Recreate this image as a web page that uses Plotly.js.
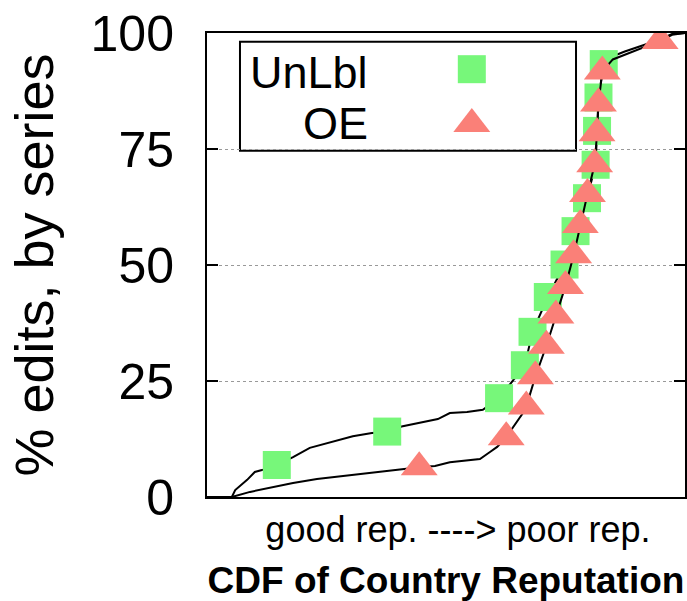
<!DOCTYPE html>
<html>
<head>
<meta charset="utf-8">
<script src="https://cdn.plot.ly/plotly-3.0.1.min.js"></script>
<style>html,body{margin:0;padding:0;background:#fff;}#chart{width:687px;height:601px;}</style>
</head>
<body>
<div id="chart"></div>
<script>
// ---- data ----
const unlblMarkX = [0.146,0.377,0.611,0.665,0.681,0.713,0.748,0.771,0.795,0.813,0.816,0.819,0.830];
const unlblMarkY = [6.9,14.1,21.3,28.4,35.6,43.1,50.1,57.3,64.4,71.6,78.9,86.1,93.3];

const oeMarkX = [0.444,0.626,0.668,0.687,0.710,0.730,0.750,0.767,0.781,0.796,0.811,0.816,0.819,0.827,0.948];
const oeMarkY = [6.4,12.9,19.5,26.0,32.6,39.1,45.5,52.1,58.6,65.3,71.7,78.4,84.8,91.7,98.3];

const unlblCurveX = [0,0.052,0.059,0.084,0.100,0.115,0.146,0.180,0.215,0.264,0.305,0.345,0.377,0.407,0.446,0.483,0.508,0.544,0.577,0.611,0.665,0.681,0.713,0.748,0.771,0.795,0.813,0.816,0.819,0.830,0.849,0.874,0.912,0.948,0.973,1.0];
const unlblCurveY = [0,0,1.5,3.7,5.4,5.8,6.9,8.6,10.6,11.9,13.1,13.8,14.0,15.2,16.0,16.8,18.1,18.3,18.8,21.3,28.4,35.6,43.1,50.1,57.3,64.4,71.6,78.9,86.1,93.3,95.0,96.0,97.3,98.6,99.8,100];

const oeCurveX = [0,0.052,0.090,0.126,0.180,0.230,0.278,0.335,0.408,0.444,0.477,0.508,0.571,0.592,0.607,0.626,0.661,0.668,0.687,0.710,0.730,0.750,0.767,0.781,0.796,0.811,0.816,0.819,0.827,0.849,0.874,0.912,0.948,0.973,1.0];
const oeCurveY = [0,0,1.1,1.9,3.0,3.9,4.5,5.2,6.0,6.4,6.7,7.5,8.2,9.7,10.8,12.9,18.1,19.5,26.0,32.6,39.1,45.5,52.1,58.6,65.3,71.7,78.4,84.8,91.7,94.3,95.3,96.7,98.3,99.6,100];

const seriesNames = ['UnLbl','OE'];
const yTickVals = [0,25,50,75,100];
const yTickText = ['0','25','50','75','100'];
const xTickVals = [0.525];
const xTickText = ['good rep. ----> poor rep.'];
const yTitle = '% edits, by series';
const xTitle = '<b>CDF of Country Reputation</b>';

// legend glyph placement (layout)
const legendGlyphX = [0.554];
const legendGlyphY = [92.2, 80.4];

const GREEN = '#77f77a';
const SALMON = '#fa8078';
const FONT = 'Liberation Sans, Arial, Helvetica, sans-serif';

const traces = [
  {x: unlblCurveX, y: unlblCurveY, mode:'lines', line:{color:'#000', width:2}, showlegend:false, hoverinfo:'skip'},
  {x: unlblMarkX, y: unlblMarkY, mode:'markers', name: seriesNames[0],
   marker:{symbol:'square', size:28, color:GREEN, line:{width:0}}, showlegend:false},
  {x: oeCurveX, y: oeCurveY, mode:'lines', line:{color:'#000', width:2}, showlegend:false, hoverinfo:'skip'},
  {x: oeMarkX, y: oeMarkY, mode:'markers', name: seriesNames[1],
   marker:{symbol:'triangle-up', size:32, color:SALMON, line:{width:0}}, showlegend:false},
  // legend glyphs
  {x: legendGlyphX, y: [legendGlyphY[0]], mode:'markers', marker:{symbol:'square', size:28, color:GREEN}, showlegend:false, hoverinfo:'skip', cliponaxis:false},
  {x: legendGlyphX, y: [legendGlyphY[1]], mode:'markers', marker:{symbol:'triangle-up', size:32, color:SALMON}, showlegend:false, hoverinfo:'skip', cliponaxis:false}
];

const layout = {
  width: 687, height: 601,
  margin: {l:207, r:2, t:33, b:104},
  paper_bgcolor:'#fff', plot_bgcolor:'#fff',
  font: {family: FONT, color:'#000'},
  showlegend: false,
  xaxis: {
    range:[0,1], showline:true, linecolor:'#000', linewidth:2, mirror:true,
    showgrid:false, zeroline:false, ticks:'',
    tickvals: xTickVals, ticktext: xTickText,
    tickfont:{size:36, family:FONT, color:'#000'},
    title:{text:xTitle, font:{size:37, family:FONT, color:'#000'}, standoff:20}
  },
  yaxis: {
    range:[0,100], showline:true, linecolor:'#000', linewidth:2, mirror:'ticks',
    ticks:'inside', ticklen:11, tickwidth:2, tickcolor:'#000',
    tickvals: yTickVals, ticktext: yTickText,
    tickfont:{size:50, family:FONT, color:'#000'},
    ticklabelstandoff: 21,
    showgrid:true, gridcolor:'#999', gridwidth:1, griddash:'dot',
    zeroline:false,
    title:{text:yTitle, font:{size:54, family:FONT, color:'#000'}, standoff:20}
  },
  shapes: [
    {type:'rect', xref:'paper', yref:'paper', x0:0.069, x1:0.772, y0:0.746, y1:0.981,
     line:{color:'#000', width:2}, fillcolor:'#fff', layer:'between'}
  ],
  annotations: [
    {text: seriesNames[0], xref:'paper', yref:'paper', x:0.341, y:0.9155, xanchor:'right', yanchor:'middle',
     showarrow:false, font:{size:45, family:FONT, color:'#000'}},
    {text: seriesNames[1], xref:'paper', yref:'paper', x:0.341, y:0.806, xanchor:'right', yanchor:'middle',
     showarrow:false, font:{size:45, family:FONT, color:'#000'}}
  ]
};

Plotly.newPlot('chart', traces, layout, {displayModeBar:false, staticPlot:true});
</script>
</body>
</html>
